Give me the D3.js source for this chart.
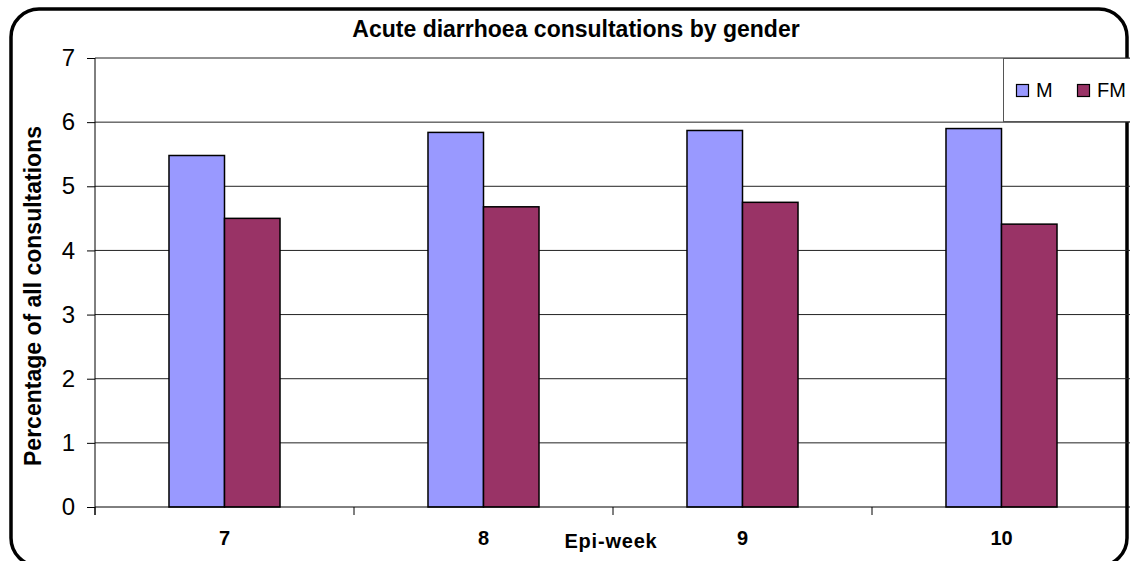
<!DOCTYPE html>
<html><head><meta charset="utf-8">
<script src="https://cdn.jsdelivr.net/npm/d3@7"></script>
<style>body{margin:0;background:#fff;}svg{display:block;font-family:Arial,"Liberation Sans",sans-serif;}</style>
</head><body>
<svg id="c" width="1130" height="561"></svg>
<script>
const weeks = ["7","8","9","10"];
const seriesNames = ["M","FM"];
const maleValues = [5.48, 5.84, 5.87, 5.90];
const femaleValues = [4.50, 4.68, 4.75, 4.41];
const yTicks = [0,1,2,3,4,5,6,7];
const colors = {M:"#9999FF", FM:"#993366"};

(function(){
const svg = d3.select("#c");
const pLeft = 95, pRight = 1131, pTop = 58, pBottom = 507;

// outer rounded border
svg.append("rect").attr("x",11).attr("y",9).attr("width",1116).attr("height",557)
  .attr("rx",28).attr("ry",28).attr("fill","none").attr("stroke","#000").attr("stroke-width",3.5);

const y = d3.scaleLinear().domain([0,7]).range([pBottom, pTop]);
const x0 = d3.scaleBand().domain(weeks).range([pLeft, pRight]).padding(0);
const x1 = d3.scaleBand().domain(seriesNames).range([0, x0.bandwidth()]).paddingInner(0).paddingOuter(1.333);

// gridlines
svg.append("g").selectAll("line").data(yTicks.filter(d=>d>0)).join("line")
  .attr("x1",pLeft).attr("x2",pRight).attr("y1",d=>y(d)).attr("y2",d=>y(d))
  .attr("stroke","#222").attr("stroke-width",1);

// legend box
const lg = svg.append("g");
lg.append("rect").attr("x",1003.5).attr("y",58.5).attr("width",140).attr("height",63)
  .attr("fill","#fff").attr("stroke","#555").attr("stroke-width",1);
seriesNames.forEach((s,i)=>{
  const lx = [1016,1077][i];
  lg.append("rect").attr("x",lx+0.5).attr("y",84.5).attr("width",12).attr("height",12)
    .attr("fill",colors[s]).attr("stroke","#000").attr("stroke-width",1.2);
  lg.append("text").attr("x",lx+20).attr("y",97).attr("font-size",20).attr("fill","#000").text(s);
});

// bars
const data = weeks.map((w,i)=>({week:w, M:maleValues[i], FM:femaleValues[i]}));
svg.append("g").selectAll("g").data(data).join("g")
  .attr("transform",d=>`translate(${x0(d.week)},0)`)
  .selectAll("rect").data(d=>seriesNames.map(s=>({s, v:d[s]}))).join("rect")
  .attr("x",d=>x1(d.s)).attr("width",x1.bandwidth())
  .attr("y",d=>y(d.v)).attr("height",d=>y(0)-y(d.v))
  .attr("fill",d=>colors[d.s]).attr("stroke","#000").attr("stroke-width",1.5);

// y axis
const yAxis = d3.axisLeft(y).tickValues(yTicks).tickFormat(d3.format("d")).tickSize(8).tickPadding(12);
const ya = svg.append("g").attr("transform",`translate(${pLeft},0)`).call(yAxis);
ya.select(".domain").attr("stroke","#000").attr("d",`M0,${pTop}V${pBottom+8}`);
ya.selectAll(".tick line").attr("stroke","#000");
ya.selectAll("text").attr("font-size",24).attr("font-family","Arial, 'Liberation Sans', sans-serif").attr("fill","#000");

// x axis: ticks at category boundaries
svg.append("line").attr("x1",pLeft).attr("x2",pRight).attr("y1",pBottom).attr("y2",pBottom).attr("stroke","#000");
const bounds = weeks.map(w=>x0(w)).concat([pRight]);
svg.append("g").selectAll("line").data(bounds).join("line")
  .attr("x1",d=>d).attr("x2",d=>d).attr("y1",pBottom).attr("y2",pBottom+8).attr("stroke","#000");
svg.append("g").selectAll("text").data(weeks).join("text")
  .attr("x",d=>x0(d)+x0.bandwidth()/2).attr("y",545).attr("text-anchor","middle")
  .attr("font-size",20).attr("font-weight","bold").attr("fill","#000").text(d=>d);

// titles
svg.append("text").attr("x",576).attr("y",37).attr("text-anchor","middle")
  .attr("font-size",23).attr("font-weight","bold").text("Acute diarrhoea consultations by gender");
svg.append("text").attr("x",611).attr("y",548).attr("text-anchor","middle")
  .attr("font-size",20).attr("font-weight","bold").attr("letter-spacing",0.8).text("Epi-week");
svg.append("text").attr("transform","translate(41,296) rotate(-90)").attr("text-anchor","middle")
  .attr("font-size",23).attr("font-weight","bold").text("Percentage of all consultations");
})();
</script>
</body></html>
